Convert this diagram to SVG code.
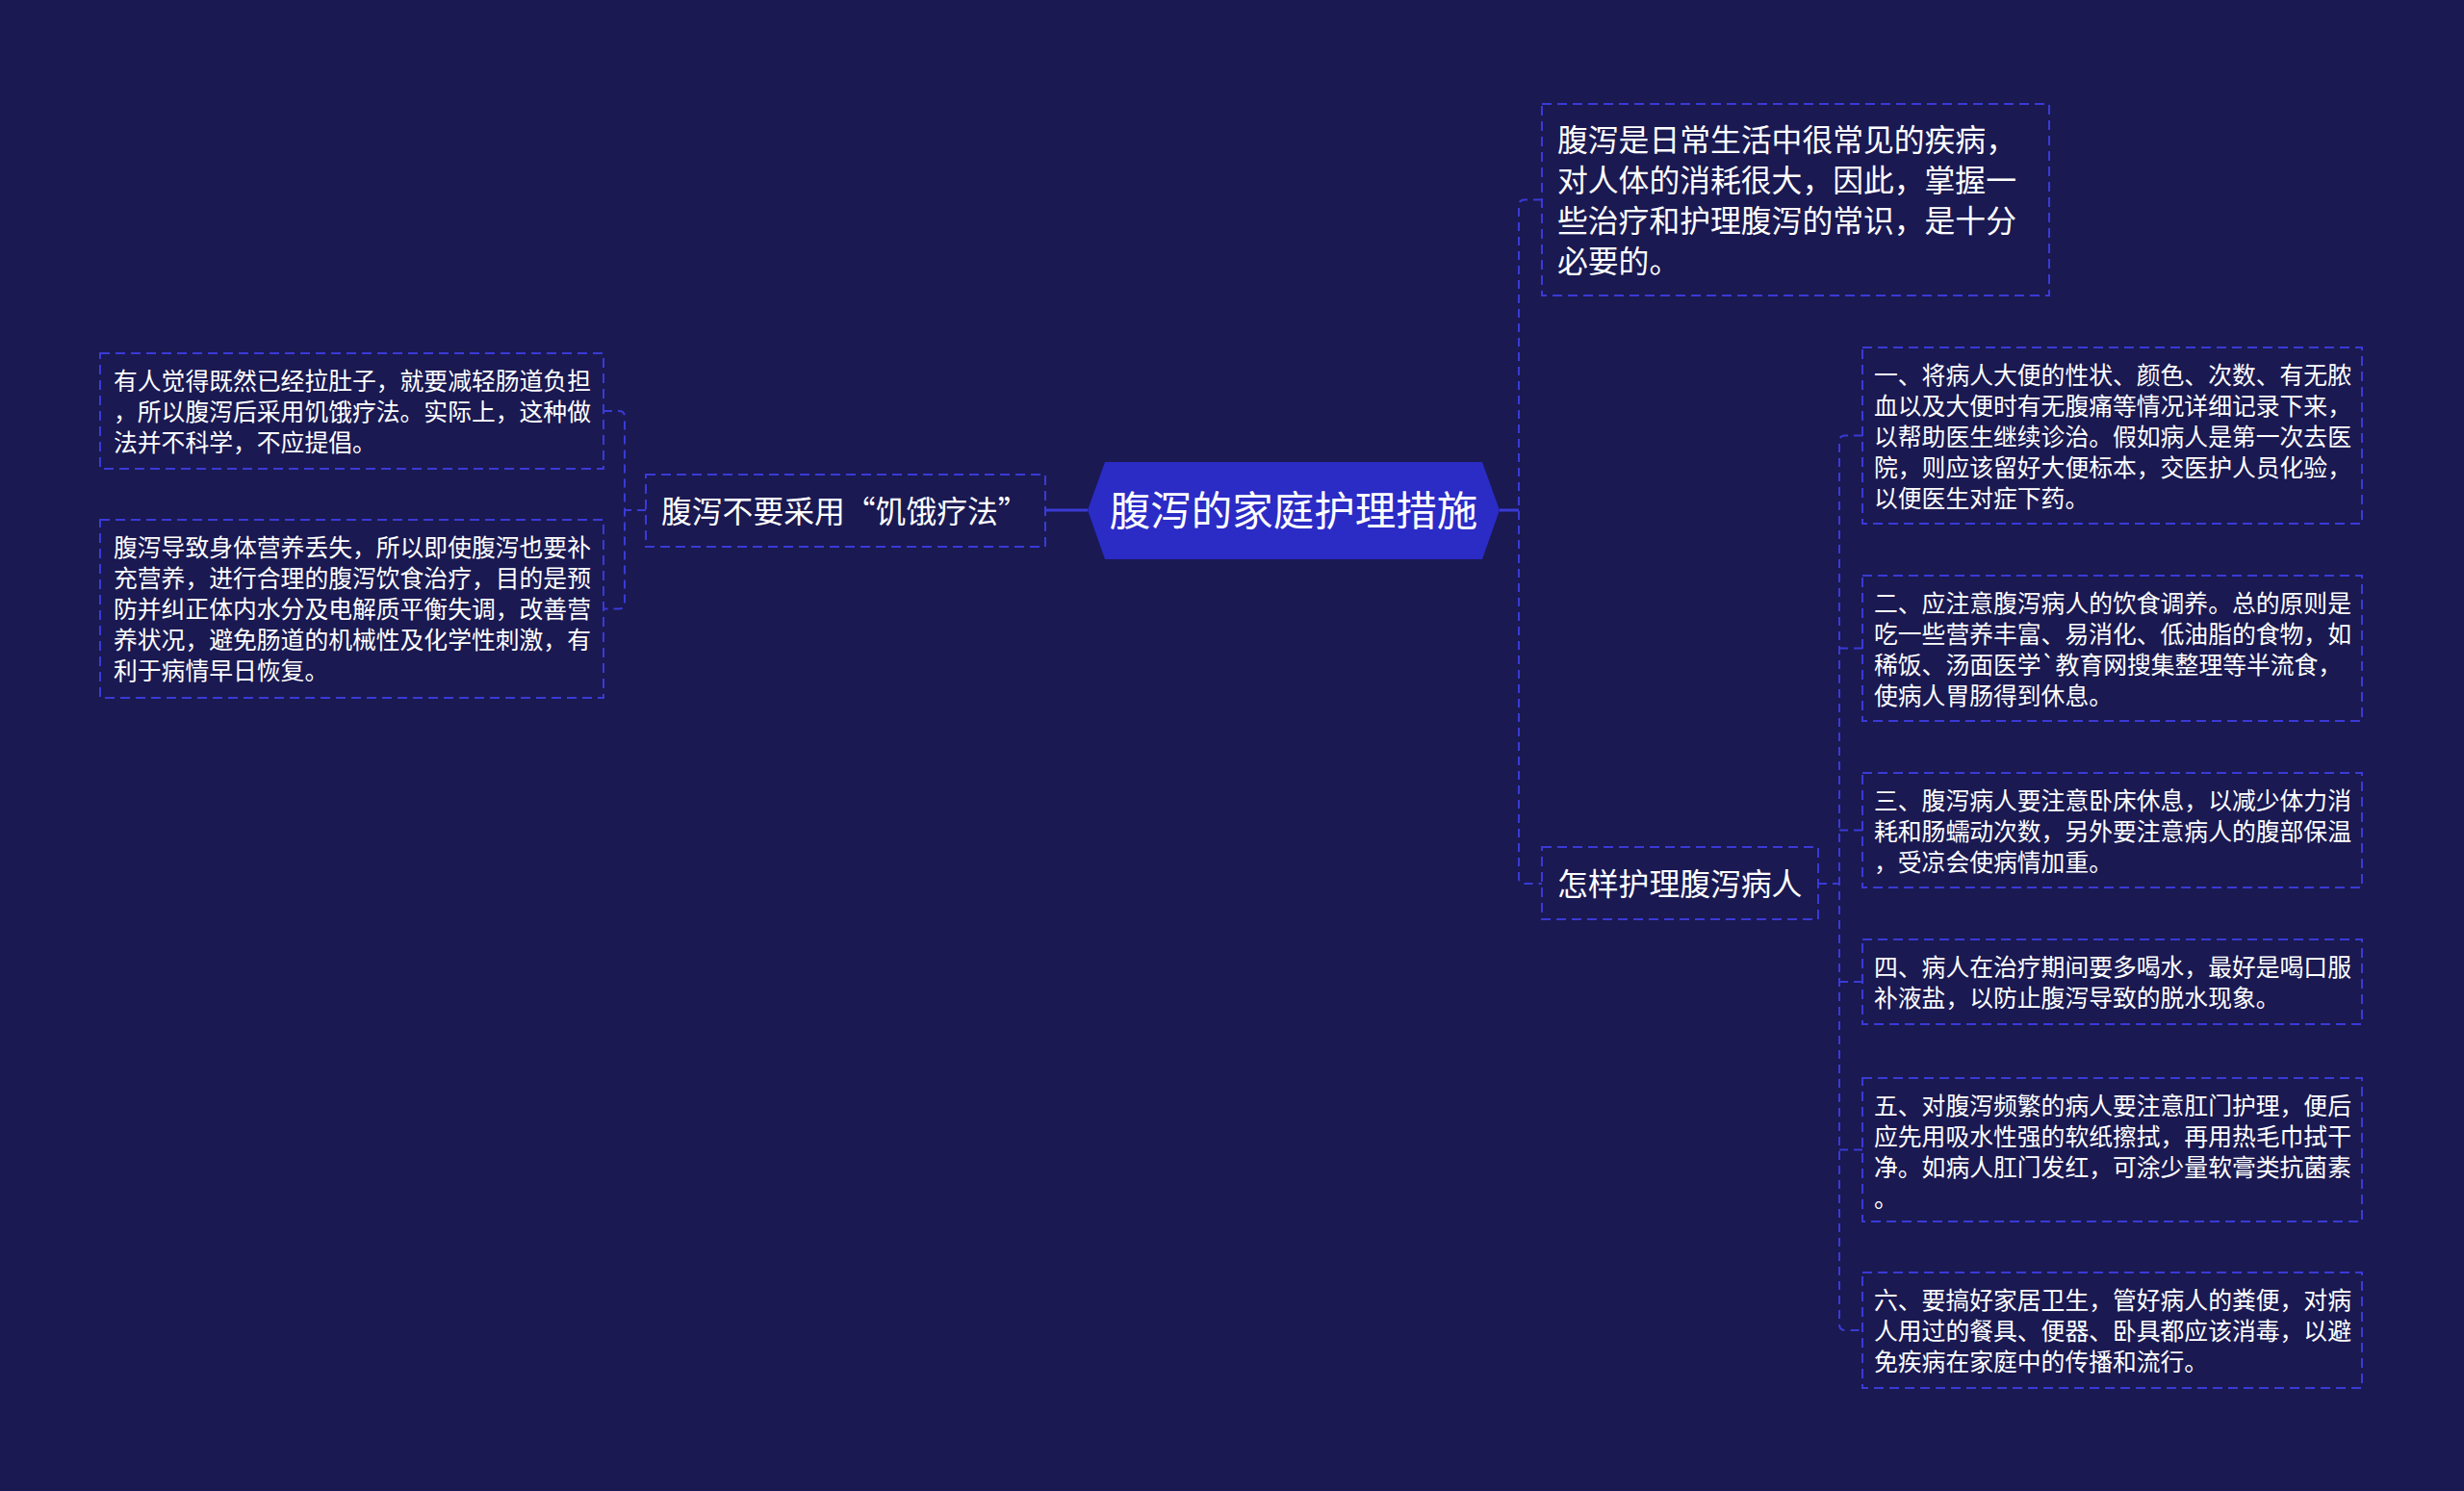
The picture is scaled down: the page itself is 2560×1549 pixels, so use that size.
<svg xmlns="http://www.w3.org/2000/svg" width="2560" height="1549" viewBox="0 0 2560 1549">
<style>
.bg{fill:#1a1952}
.box{fill:none;stroke:#3a3ad6;stroke-width:2;stroke-dasharray:10 6}
.link{fill:none;stroke:#3a3ad6;stroke-width:2;stroke-dasharray:9 6}
.solid{fill:none;stroke:#3a3ad6;stroke-width:3}
.t{font-family:"Noto Sans CJK SC","Noto Sans",sans-serif;fill:#ffffff}
.leaf{font-size:24.8px}
.mid{font-size:31.8px}
.root{font-size:42.5px}
</style>
<rect class="bg" x="0" y="0" width="2560" height="1549"/>
<g id="connectors">
  <path class="solid" d="M1086,530 H1130"/>
  <path class="link" d="M671,530 H649"/>
  <path class="link" d="M627,427 H643 Q649,427 649,433 V626.5 Q649,632.5 643,632.5 H627"/>
  <path class="solid" d="M1558,530 H1578"/>
  <path class="link" d="M1602,207.5 H1584 Q1578,207.5 1578,213.5 V912 Q1578,918 1584,918 H1602"/>
  <path class="link" d="M1889,918 H1911"/>
  <path class="link" d="M1935,452.5 H1917 Q1911,452.5 1911,458.5 V1376 Q1911,1382 1917,1382 H1935"/>
  <path class="link" d="M1911,673.5 H1935 M1911,862.5 H1935 M1911,1020 H1935 M1911,1194.5 H1935"/>
</g>
<g id="root">
  <polygon points="1130,530 1148,480 1540,480 1558,530 1540,581 1148,581" fill="#2b2bc6"/>
  <text class="t root" x="1344" y="546" text-anchor="middle">腹泻的家庭护理措施</text>
</g>
<g id="n-left">
  <rect class="box" x="671" y="493" width="415" height="75"/>
  <text class="t mid" x="687" y="542.5">腹泻不要采用“饥饿疗法”</text>
</g>
<g id="n-left-1">
  <rect class="box" x="104" y="367" width="523" height="120"/>
  <text class="t leaf"><tspan x="118" y="404.5">有人觉得既然已经拉肚子，就要减轻肠道负担</tspan><tspan x="118" y="436.5">，所以腹泻后采用饥饿疗法。实际上，这种做</tspan><tspan x="118" y="468.5">法并不科学，不应提倡。</tspan></text>
</g>
<g id="n-left-2">
  <rect class="box" x="104" y="540" width="523" height="185"/>
  <text class="t leaf"><tspan x="118" y="577.5">腹泻导致身体营养丢失，所以即使腹泻也要补</tspan><tspan x="118" y="609.5">充营养，进行合理的腹泻饮食治疗，目的是预</tspan><tspan x="118" y="641.5">防并纠正体内水分及电解质平衡失调，改善营</tspan><tspan x="118" y="673.5">养状况，避免肠道的机械性及化学性刺激，有</tspan><tspan x="118" y="705.5">利于病情早日恢复。</tspan></text>
</g>
<g id="n-intro">
  <rect class="box" x="1602" y="108" width="527" height="199"/>
  <text class="t mid"><tspan x="1618" y="156.5">腹泻是日常生活中很常见的疾病，</tspan><tspan x="1618" y="198.5">对人体的消耗很大，因此，掌握一</tspan><tspan x="1618" y="240.5">些治疗和护理腹泻的常识，是十分</tspan><tspan x="1618" y="282.5">必要的。</tspan></text>
</g>
<g id="n-care">
  <rect class="box" x="1602" y="880" width="287" height="75"/>
  <text class="t mid" x="1618" y="929.5">怎样护理腹泻病人</text>
</g>
<g id="n-care-1">
  <rect class="box" x="1935" y="361" width="519" height="183"/>
  <text class="t leaf"><tspan x="1947" y="398.5">一、将病人大便的性状、颜色、次数、有无脓</tspan><tspan x="1947" y="430.5">血以及大便时有无腹痛等情况详细记录下来，</tspan><tspan x="1947" y="462.5">以帮助医生继续诊治。假如病人是第一次去医</tspan><tspan x="1947" y="494.5">院，则应该留好大便标本，交医护人员化验，</tspan><tspan x="1947" y="526.5">以便医生对症下药。</tspan></text>
</g>
<g id="n-care-2">
  <rect class="box" x="1935" y="598" width="519" height="151"/>
  <text class="t leaf"><tspan x="1947" y="635.5">二、应注意腹泻病人的饮食调养。总的原则是</tspan><tspan x="1947" y="667.5">吃一些营养丰富、易消化、低油脂的食物，如</tspan><tspan x="1947" y="699.5">稀饭、汤面医学`教育网搜集整理等半流食，</tspan><tspan x="1947" y="731.5">使病人胃肠得到休息。</tspan></text>
</g>
<g id="n-care-3">
  <rect class="box" x="1935" y="803" width="519" height="119"/>
  <text class="t leaf"><tspan x="1947" y="840.5">三、腹泻病人要注意卧床休息，以减少体力消</tspan><tspan x="1947" y="872.5">耗和肠蠕动次数，另外要注意病人的腹部保温</tspan><tspan x="1947" y="904.5">，受凉会使病情加重。</tspan></text>
</g>
<g id="n-care-4">
  <rect class="box" x="1935" y="976" width="519" height="88"/>
  <text class="t leaf"><tspan x="1947" y="1013.5">四、病人在治疗期间要多喝水，最好是喝口服</tspan><tspan x="1947" y="1045.5">补液盐，以防止腹泻导致的脱水现象。</tspan></text>
</g>
<g id="n-care-5">
  <rect class="box" x="1935" y="1120" width="519" height="149"/>
  <text class="t leaf"><tspan x="1947" y="1157.5">五、对腹泻频繁的病人要注意肛门护理，便后</tspan><tspan x="1947" y="1189.5">应先用吸水性强的软纸擦拭，再用热毛巾拭干</tspan><tspan x="1947" y="1221.5">净。如病人肛门发红，可涂少量软膏类抗菌素</tspan><tspan x="1947" y="1253.5">。</tspan></text>
</g>
<g id="n-care-6">
  <rect class="box" x="1935" y="1322" width="519" height="120"/>
  <text class="t leaf"><tspan x="1947" y="1359.5">六、要搞好家居卫生，管好病人的粪便，对病</tspan><tspan x="1947" y="1391.5">人用过的餐具、便器、卧具都应该消毒，以避</tspan><tspan x="1947" y="1423.5">免疾病在家庭中的传播和流行。</tspan></text>
</g>
</svg>
